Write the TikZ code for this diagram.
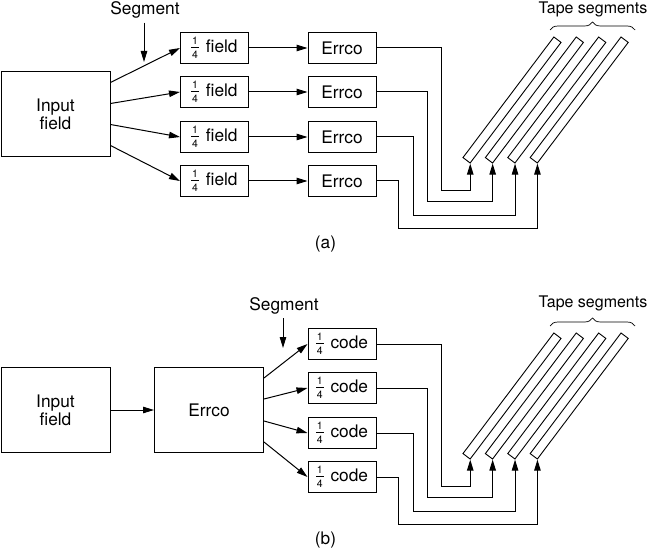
\documentclass[tikz,border=0pt]{standalone}
\usepackage{fontspec}
\setmainfont{TeX Gyre Heros}
\usetikzlibrary{arrows.meta,decorations.pathreplacing}
\newcommand\qtr{\makebox[7.5pt]{\rlap{\raisebox{8.1pt}{\makebox[7.5pt]{\fontsize{10.5}{10.5}\selectfont 1}}}\rlap{\rule[4.7pt]{7.5pt}{0.9pt}}\raisebox{-5.9pt}{\makebox[7.5pt]{\fontsize{10.5}{10.5}\selectfont 4}}}\hspace{7pt}}
\begin{document}
\begin{tikzpicture}[x=1pt,y=-1pt,
  font=\fontsize{17.3}{18}\selectfont,
  line width=1pt,
  >={Triangle[length=11pt,width=6.5pt]},
  bigbox/.style={draw,inner sep=0pt,minimum width=109pt,minimum height=85pt,align=center},
  smallbox/.style={draw,inner sep=0pt,minimum width=68pt,minimum height=31pt},
  strip/.style={draw,inner sep=0pt,line width=0.9pt,rotate=53,minimum width=151pt,minimum height=9pt},
  tapelabel/.style={anchor=base,inner sep=0pt,font=\fontsize{16}{18}\selectfont},
  tapebrace/.style={decorate,decoration={brace,amplitude=8pt},line width=0.7pt}]
\useasboundingbox (0,0) rectangle (650,548);

% ---------------- (a) ----------------
\node[bigbox] (ina) at (55.5,114) {Input\\field};
\node[anchor=base] (sega) at (145,15) {Segment};
\coordinate (segat) at (144,62);
\draw[->] (sega.south -| segat) -- (segat);

\foreach \i/\y/\s in {1/48/31.5,2/92/10.5,3/137/-10.5,4/181/-31.5}{
  \node[smallbox] (qa\i) at (214.5,\y) {\qtr field};
  \node[smallbox] (ea\i) at (342,\y) {Errco};
  \draw[->] ([yshift=\s pt]ina.east) -- (qa\i.west);
  \draw[->] (qa\i.east) -- (ea\i.west);
}
\foreach \i in {1,...,4}{
  \node[strip] (sa\i) at ({512+22.4*(\i-1)},100) {};
}
\foreach \i/\xb/\yb in {1/441.7/190.7,2/427.7/201.7,3/413/215,4/398/228}{
  \draw[->] (ea\i.east) -| (\xb,\yb) -| (sa\i.south west);
}
\node[tapelabel] (tapea) at (593,13.5) {Tape segments};
\coordinate (bra1) at (550,30);
\coordinate (bra2) at (635,30);
\draw[tapebrace] (bra1) -- (bra2);
\node (labela) at (325.5,244) {(a)};

% ---------------- (b) ----------------
\node[bigbox] (inb) at (55.5,410) {Input\\field};
\node[bigbox] (errb) at (209,410) {Errco};
\draw[->] (inb) -- (errb);
\node[anchor=base] (segb) at (284,310.7) {Segment};
\coordinate (segbt) at (283,348);
\draw[->] (segb.south -| segbt) -- (segbt);

\foreach \i/\y/\s in {1/344/32,2/388/11,3/433/-11,4/477/-32}{
  \node[smallbox] (cb\i) at (342,\y) {\qtr code};
  \draw[->] ([yshift=\s pt]errb.east) -- (cb\i.west);
}
\foreach \i in {1,...,4}{
  \node[strip] (sb\i) at ({512+22.4*(\i-1)},396) {};
}
\foreach \i/\xb/\yb in {1/441.7/486.7,2/427.7/497.7,3/413/511,4/398/524}{
  \draw[->] (cb\i.east) -| (\xb,\yb) -| (sb\i.south west);
}
\node[tapelabel] (tapeb) at (593,307.5) {Tape segments};
\coordinate (brb1) at (550,326);
\coordinate (brb2) at (635,326);
\draw[tapebrace] (brb1) -- (brb2);
\node (labelb) at (325.5,540) {(b)};
\end{tikzpicture}
\end{document}
